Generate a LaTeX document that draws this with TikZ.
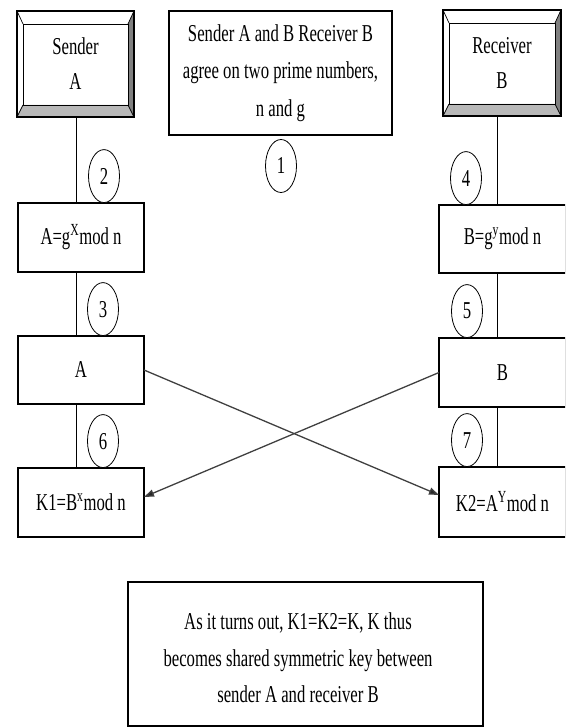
\documentclass[tikz,border=0pt]{standalone}
\usepackage{fontspec}
\setmainfont{Liberation Serif}
\usepackage{graphicx}
\usetikzlibrary{shapes.geometric,arrows.meta,calc}

% tall, narrow lettering
\newcommand{\tall}[1]{\scalebox{1}[1.45]{#1}}

% raised frame: light top/left, shaded right/bottom
\newcommand{\bevelframe}[1]{%
  \coordinate (#1-a) at ($(#1.north west)+(6,13)$);
  \coordinate (#1-b) at ($(#1.north east)+(-6,13)$);
  \coordinate (#1-c) at ($(#1.south east)+(-6,-12)$);
  \coordinate (#1-d) at ($(#1.south west)+(6,-12)$);
  \fill[bevdark] (#1.north east) -- (#1.south east) -- (#1-c) -- (#1-b) -- cycle;
  \fill[bevmid] (#1.south west) -- (#1.south east) -- (#1-c) -- (#1-d) -- cycle;
  \draw[bevline] (#1-a) rectangle (#1-c);
  \draw[bevline] (#1.north west) -- (#1-a) (#1.north east) -- (#1-b)
                 (#1.south east) -- (#1-c) (#1.south west) -- (#1-d);
  \draw[line width=1.1pt] (#1.north west) rectangle (#1.south east);
}

\begin{document}
\begin{tikzpicture}[x=1pt,y=-1pt,
  every node/.style={font=\fontsize{16.7}{36.5}\selectfont},
  box/.style={draw=black, line width=1.1pt, rectangle, inner sep=0pt,
              outer sep=0pt, align=center, fill=white},
  num/.style={draw=black, line width=0.8pt, ellipse, minimum width=31pt,
              minimum height=53pt, inner sep=0pt, fill=white},
  conn/.style={line width=0.8pt, draw=black},
  xarrow/.style={line width=1.3pt, draw=black!75,
                 -{Triangle[length=10pt,width=7pt,fill=black!85]}},
  bevdark/.style={fill=black!50},
  bevmid/.style={fill=black!28},
  bevline/.style={line width=0.7pt, draw=black}
]
\useasboundingbox (0,0) rectangle (565,727);
\clip (0,0) rectangle (565,727);

% parties
\node[box, minimum width=117pt, minimum height=106pt] (sendA) at (75.5,64) {};
\bevelframe{sendA}
\node[box, draw=none, fill=none, align=center] (sendAtext) at (sendA) {\tall{Sender}\\[-1.5pt]\tall{A}};

\node[box, minimum width=118pt, minimum height=106pt] (recvB) at (502,63) {};
\bevelframe{recvB}
\node[box, draw=none, fill=none, align=center] (recvBtext) at (recvB) {\tall{Receiver}\\[-1.5pt]\tall{B}};

% agreement
\node[box, minimum width=223pt, minimum height=124pt] (agree) at (280.5,73)
  {\tall{Sender A and B Receiver B}\\[1pt]\tall{agree on two prime numbers,}\\[1pt]\tall{n and g}};

% left column
\node[box, minimum width=126pt, minimum height=69pt] (ag) at (81,237.5)
  {\tall{A=g\textsuperscript{X}mod n}};
\node[box, minimum width=126pt, minimum height=68pt] (aa) at (81,370) {\tall{A}};
\node[box, minimum width=126pt, minimum height=69pt] (k1) at (81,502.5)
  {\tall{K1=B\textsuperscript{x}mod n}};

% right column
\node[box, minimum width=127pt, minimum height=68pt] (bg) at (502.5,239)
  {\tall{B=g\textsuperscript{y}mod n}};
\node[box, minimum width=127pt, minimum height=69pt] (bb) at (502.5,372.5) {\tall{B}};
\node[box, minimum width=127pt, minimum height=70pt] (k2) at (502.5,502)
  {\tall{K2=A\textsuperscript{Y}mod n}};

% conclusion
\node[box, minimum width=355pt, minimum height=144pt] (note) at (305.5,654) {};
\node[box, draw=none, fill=none] (notetext) at (298,658)
  {\tall{As it turns out, K1=K2=K, K thus}\\\tall{becomes shared symmetric key between}\\\tall{sender A and receiver B}};

% vertical links
\coordinate (lx) at (76,0);
\coordinate (rx) at (497,0);
\draw[conn] (sendA.south -| lx) -- (ag.north -| lx);
\draw[conn] (ag.south -| lx) -- (aa.north -| lx);
\draw[conn] (aa.south -| lx) -- (k1.north -| lx);
\draw[conn] (recvB.south -| rx) -- (bg.north -| rx);
\draw[conn] (bg.south -| rx) -- (bb.north -| rx);
\draw[conn] (bb.south -| rx) -- (k2.north -| rx);

% step numbers
\node[num] (c1) at (281,166) {\tall{1}};
\node[num, anchor=south] (c2) at (104,203) {\tall{2}};
\node[num, anchor=south] (c3) at (103,336) {\tall{3}};
\node[num, anchor=south] (c4) at (466,205) {\tall{4}};
\node[num, anchor=south] (c5) at (467,338) {\tall{5}};
\node[num, anchor=south] (c6) at (103,468) {\tall{6}};
\node[num, anchor=south] (c7) at (467,467) {\tall{7}};

% exchange of public values
\draw[xarrow] (aa.east) -- ([yshift=7pt]k2.west);
\draw[xarrow] (bb.west) -- ([yshift=5.5pt]k1.east);
\end{tikzpicture}
\end{document}
